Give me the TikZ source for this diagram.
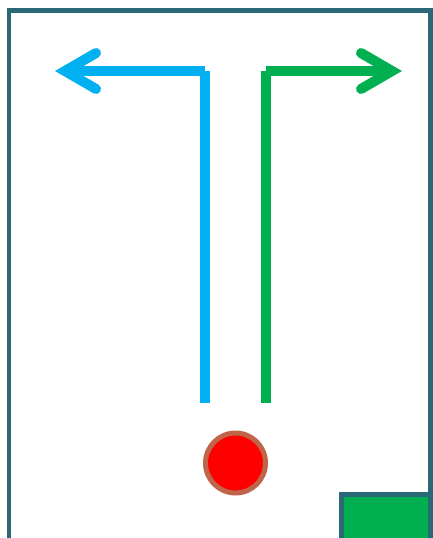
\documentclass[tikz,border=0pt]{standalone}
\usepackage{tikz}
\usetikzlibrary{calc}
\definecolor{frameteal}{HTML}{2A6878}
\definecolor{leftblue}{HTML}{00B0F0}
\definecolor{rightgreen}{HTML}{00B050}
\definecolor{ballred}{HTML}{FF0000}
\definecolor{ballrim}{HTML}{C0644A}
\begin{document}
\begin{tikzpicture}[x=1pt,y=-1pt,
  track/.style={line width=10pt},
  barb/.style={line width=10pt,line cap=round,line join=miter}]
\useasboundingbox (0,0) rectangle (433,538);
\begin{scope}
\clip (0,0) rectangle (433,538);
\draw[frameteal,fill=rightgreen,line width=5pt] (341,494.5) rectangle (440,560);
\draw[frameteal,line width=4.5pt] (9,560) -- (9,10.5) -- (430.5,10.5) -- (430.5,560);
\end{scope}
\node[circle,fill=ballred,draw=ballrim,line width=5pt,minimum size=60pt,inner sep=0pt] (ball) at (235.5,463) {};
\coordinate (lbot) at (205,403);
\coordinate (lcorner) at (205,71);
\coordinate (lhead) at (65,71);
\coordinate (rbot) at (265.5,403);
\coordinate (rcorner) at (265.5,71);
\coordinate (rhead) at (392,71);
\draw[track,leftblue] (lbot) -- (lcorner);
\draw[track,leftblue] (lcorner) -- (lhead);
\draw[barb,leftblue] ($(lhead)+(31,-18)$) -- (lhead) -- ($(lhead)+(31,18)$);
\draw[track,rightgreen] (rbot) -- (rcorner);
\draw[track,rightgreen] (rcorner) -- (rhead);
\draw[barb,rightgreen] ($(rhead)+(-31,-18)$) -- (rhead) -- ($(rhead)+(-31,18)$);
\end{tikzpicture}
\end{document}
